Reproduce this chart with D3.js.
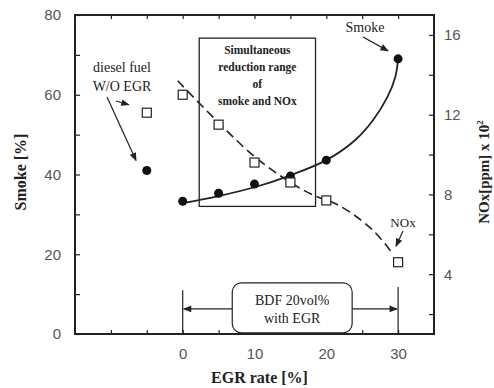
<!DOCTYPE html>
<html>
<head>
<meta charset="utf-8">
<script src="https://cdn.jsdelivr.net/npm/d3@7"></script>
<style>
  body { margin: 0; background: #fff; }
  svg { display: block; }
</style>
</head>
<body>
<div id="container"></div>
<script>
// measured points
const egrRate = [0, 5, 10, 15, 20, 30];
const smoke = [33.3, 35.3, 37.6, 39.6, 43.6, 69];
const nox = [13.0, 11.5, 9.6, 8.6, 7.7, 4.6];

// diesel fuel without EGR
const dieselRate = [-5];
const dieselSmoke = [41];
const dieselNox = [12.1];

// fitted trend lines
const smokeFitRate = [0, 5, 10, 15, 20, 24, 26.5, 28.5, 29.6, 30];
const smokeFit = [32.8, 34.6, 36.8, 39.8, 43.6, 48.6, 53.6, 59.4, 64.4, 69];
const noxFitRate = [-0.7, 5, 10, 15, 18, 22, 26.5, 29.3];
const noxFit = [13.7, 11.6, 9.9, 8.6, 8.0, 7.4, 6.2, 5.0];

const xTicks = [0, 10, 20, 30];
const smokeTicks = [0, 20, 40, 60, 80];
const noxTicks = [4, 8, 12, 16];

const config = {
    width: 494,
    height: 388,
    left: 75,
    right: 434,
    top: 15,
    bottom: 334,
}

const serif = "'Liberation Serif', 'DejaVu Serif', serif";
const sans = "'Liberation Sans', Arial, sans-serif";
const ink = '#222';

const svg = d3.select('#container')
    .append('svg')
    .attr('width', config.width)
    .attr('height', config.height)

const x = d3.scaleLinear().domain([-15, 35]).range([config.left, config.right])
const ySmoke = d3.scaleLinear().domain([0, 80]).range([config.bottom, config.top])
const yNox = d3.scaleLinear().domain([1, 17]).range([config.bottom, config.top])

svg.append('defs').append('marker')
    .attr('id', 'arrow')
    .attr('viewBox', '0 0 10 10')
    .attr('refX', 9)
    .attr('refY', 5)
    .attr('markerWidth', 9)
    .attr('markerHeight', 7)
    .attr('orient', 'auto')
    .append('path')
    .attr('d', 'M0,1 L10,5 L0,9 Z')
    .attr('fill', ink)

// axes, ticks pointing inward
const styleAxis = (g, size) => {
    g.select('.domain').remove()
    g.selectAll('text').style('font-family', sans).style('font-size', size).attr('fill', '#555')
    g.selectAll('line').attr('stroke', ink).attr('stroke-width', 1.2)
}

svg.append('g')
    .attr('transform', `translate(0,${config.bottom})`)
    .call(d3.axisBottom(x).tickValues(d3.range(-10, 35, 5)).tickSize(-4).tickFormat(d => xTicks.includes(d) ? d : '').tickPadding(14))
    .call(g => styleAxis(g, '15px'))

svg.append('g')
    .attr('transform', `translate(0,${config.top})`)
    .call(d3.axisTop(x).tickValues(d3.range(-10, 35, 5)).tickSize(-4).tickFormat(''))
    .call(g => styleAxis(g, '15px'))

svg.append('g')
    .attr('transform', `translate(${config.left},0)`)
    .call(d3.axisLeft(ySmoke).tickValues(d3.range(0, 81, 10)).tickSize(-5).tickFormat(d => smokeTicks.includes(d) ? d : '').tickPadding(14))
    .call(g => styleAxis(g, '15px'))

svg.append('g')
    .attr('transform', `translate(${config.right},0)`)
    .call(d3.axisRight(yNox).tickValues(d3.range(2, 17, 2)).tickSize(-5).tickFormat(d => noxTicks.includes(d) ? d : '').tickPadding(10))
    .call(g => styleAxis(g, '15px'))

svg.append('rect')
    .attr('x', config.left)
    .attr('y', config.top)
    .attr('width', config.right - config.left)
    .attr('height', config.bottom - config.top)
    .attr('fill', 'none')
    .attr('stroke', ink)
    .attr('stroke-width', 2)

// axis titles
svg.append('text')
    .attr('x', (config.left + config.right) / 2 + 5)
    .attr('y', 383)
    .attr('text-anchor', 'middle')
    .style('font-family', serif)
    .style('font-weight', 'bold')
    .style('font-size', '16px')
    .attr('fill', ink)
    .text('EGR rate [%]')

svg.append('text')
    .attr('transform', 'translate(26,172) rotate(-90)')
    .attr('text-anchor', 'middle')
    .style('font-family', serif)
    .style('font-weight', 'bold')
    .style('font-size', '16px')
    .attr('fill', ink)
    .text('Smoke [%]')

const noxTitle = svg.append('text')
    .attr('transform', 'translate(489,172) rotate(-90)')
    .attr('text-anchor', 'middle')
    .style('font-family', serif)
    .style('font-weight', 'bold')
    .style('font-size', '15px')
    .attr('fill', ink)
noxTitle.append('tspan').text('NOx[ppm] x 10')
noxTitle.append('tspan').attr('dy', -6).style('font-size', '9px').text('2')

// simultaneous reduction range box
svg.append('rect')
    .attr('x', x(2.3))
    .attr('y', ySmoke(74.2))
    .attr('width', x(18.5) - x(2.3))
    .attr('height', ySmoke(32) - ySmoke(74.2))
    .attr('fill', 'none')
    .attr('stroke', ink)
    .attr('stroke-width', 1.3)

svg.append('g')
    .selectAll('text')
    .data(['Simultaneous', 'reduction range', 'of', 'smoke and NOx'])
    .join('text')
    .attr('x', (x(2.3) + x(18.5)) / 2)
    .attr('y', (_, i) => 54 + i * 17)
    .attr('text-anchor', 'middle')
    .style('font-family', serif)
    .style('font-weight', 'bold')
    .style('font-size', '11.5px')
    .attr('fill', ink)
    .text(d => d)

// fitted lines
const smokeLine = d3.line().x(d => x(d[0])).y(d => ySmoke(d[1])).curve(d3.curveCatmullRom)
const noxLine = d3.line().x(d => x(d[0])).y(d => yNox(d[1])).curve(d3.curveCatmullRom)

svg.append('path')
    .datum(d3.zip(smokeFitRate, smokeFit))
    .attr('d', smokeLine)
    .attr('fill', 'none')
    .attr('stroke', ink)
    .attr('stroke-width', 1.8)

svg.append('path')
    .datum(d3.zip(noxFitRate, noxFit))
    .attr('d', noxLine)
    .attr('fill', 'none')
    .attr('stroke', ink)
    .attr('stroke-width', 1.6)
    .attr('stroke-dasharray', '9,5')

// markers
svg.append('g')
    .selectAll('circle')
    .data(d3.zip(egrRate.concat(dieselRate), smoke.concat(dieselSmoke)))
    .join('circle')
    .attr('cx', d => x(d[0]))
    .attr('cy', d => ySmoke(d[1]))
    .attr('r', 4.5)
    .attr('fill', '#111')

svg.append('g')
    .selectAll('rect')
    .data(d3.zip(egrRate.concat(dieselRate), nox.concat(dieselNox)))
    .join('rect')
    .attr('x', d => x(d[0]) - 4.5)
    .attr('y', d => yNox(d[1]) - 4.5)
    .attr('width', 9)
    .attr('height', 9)
    .attr('fill', '#fff')
    .attr('stroke', ink)
    .attr('stroke-width', 1.2)

// annotations
const label = (tx, ty, txt, size) => svg.append('text')
    .attr('x', tx)
    .attr('y', ty)
    .attr('text-anchor', 'middle')
    .style('font-family', serif)
    .style('font-size', size)
    .attr('fill', ink)
    .text(txt)

const arrow = (x1, y1, x2, y2) => svg.append('line')
    .attr('x1', x1).attr('y1', y1)
    .attr('x2', x2).attr('y2', y2)
    .attr('stroke', ink)
    .attr('stroke-width', 1.2)
    .attr('marker-end', 'url(#arrow)')

label(122, 72, 'diesel fuel', '14px')
label(122, 91, 'W/O EGR', '14px')
arrow(107, 97, x(-6.5), ySmoke(43.5))
arrow(116, 101, x(-7.5), yNox(12.5))

label(365, 32, 'Smoke', '14px')
arrow(363, 37, x(28.6), ySmoke(71))

label(403, 227, 'NOx', '13px')
arrow(403, 231, x(29.7), yNox(5.4))

// BDF range bracket
const bdfY = ySmoke(6.3)
svg.append('line')
    .attr('x1', x(0)).attr('x2', x(0))
    .attr('y1', ySmoke(11)).attr('y2', config.bottom)
    .attr('stroke', ink).attr('stroke-width', 1.2)
svg.append('line')
    .attr('x1', x(30)).attr('x2', x(30))
    .attr('y1', ySmoke(11.8)).attr('y2', config.bottom)
    .attr('stroke', ink).attr('stroke-width', 1.2)
arrow(x(6.9), bdfY, x(0) + 1, bdfY)
arrow(x(23.6), bdfY, x(30) - 1, bdfY)

svg.append('rect')
    .attr('x', x(6.9))
    .attr('y', ySmoke(12.8))
    .attr('width', x(23.6) - x(6.9))
    .attr('height', ySmoke(0.3) - ySmoke(12.8))
    .attr('rx', 9)
    .attr('fill', '#fff')
    .attr('stroke', ink)
    .attr('stroke-width', 1.2)

label((x(6.9) + x(23.6)) / 2, 305, 'BDF 20vol%', '14px')
label((x(6.9) + x(23.6)) / 2, 323, 'with EGR', '14px')
</script>
</body>
</html>
